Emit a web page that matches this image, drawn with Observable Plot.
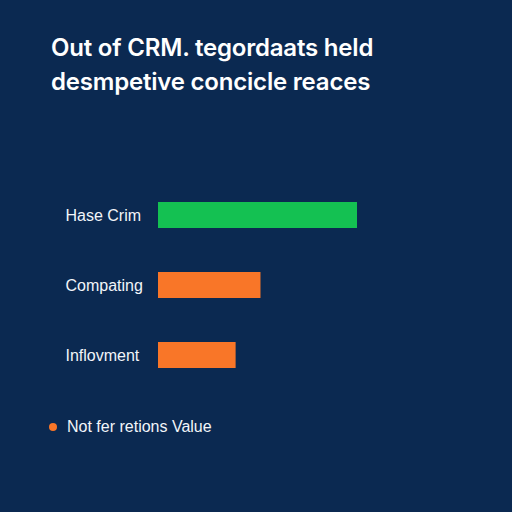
<!DOCTYPE html>
<html>
<head>
<meta charset="utf-8">
<script src="https://cdn.jsdelivr.net/npm/d3@7"></script>
<script src="https://cdn.jsdelivr.net/npm/@observablehq/plot@0.6"></script>
<style>
  html, body { margin: 0; padding: 0; background: #0b2951; }
  #wrap { width: 512px; height: 512px; background: #0b2951; position: relative; overflow: hidden; }
  #title { position: absolute; left: 51px; top: 31px; color: #ffffff; font-family: Inter, "DejaVu Sans", sans-serif; font-weight: 600; font-size: 24px; line-height: 34px; letter-spacing: -0.2px; }
  #chart { position: absolute; left: 0; top: 109px; }
  #legend { position: absolute; left: 49px; top: 417px; height: 20px; display: flex; align-items: center; color: #f2f5f9; font-family: "Liberation Sans", Arial, sans-serif; font-size: 16px; }
  #legend .dot { width: 8px; height: 8px; border-radius: 50%; background: #f97628; margin-right: 10px; }
</style>
</head>
<body>
<div id="wrap">
  <div id="title">Out of CRM. tegordaats held<br>desmpetive concicle reaces</div>
  <div id="chart"></div>
  <div id="legend"><span class="dot"></span><span>Not fer retions Value</span></div>
</div>
<script>
const categories = ["Hase Crim", "Compating", "Inflovment"];
const values = [100, 51.5, 39];
const groups = ["highlight", "other", "other"];
const legendLabel = "Not fer retions Value";

const data = categories.map((c, i) => ({category: c, value: values[i], group: groups[i]}));

const chart = Plot.plot({
  width: 512,
  height: 304,
  marginTop: 48,
  marginBottom: 0,
  marginLeft: 158,
  marginRight: 155,
  style: {background: "transparent", color: "#f2f5f9", fontFamily: "'Liberation Sans', Arial, sans-serif", fontSize: "16px"},
  x: {domain: [0, 100], axis: null},
  y: {domain: categories, padding: 0.63, label: null},
  color: {domain: ["highlight", "other"], range: ["#14c152", "#f97628"]},
  marks: [
    Plot.barX(data, {x: "value", y: "category", fill: "group"}),
    Plot.axisY({tickSize: 0, textAnchor: "start", dx: -84, label: null, fill: "#f2f5f9", fontSize: 16})
  ]
});
document.getElementById("chart").appendChild(chart);
</script>
</body>
</html>
